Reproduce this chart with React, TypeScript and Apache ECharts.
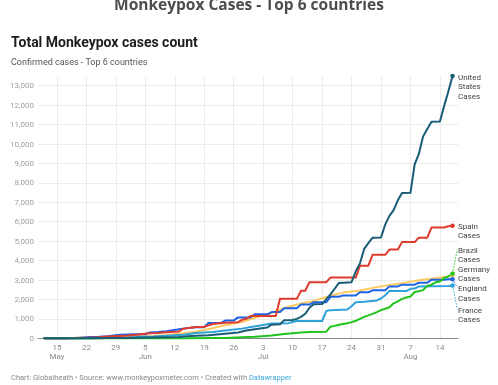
import React, { useEffect, useRef } from "react";
import * as echarts from "echarts";

// ---------- data (cumulative confirmed cases, 2022) ----------
const tickDates = ["05-15", "05-22", "05-29", "06-05", "06-12", "06-19", "06-26", "07-03", "07-10", "07-17", "07-24", "07-31", "08-07", "08-14"];
const tickDayLabels = ["15", "22", "29", "5", "12", "19", "26", "3", "10", "17", "24", "31", "7", "14"];
const tickMonthLabels = ["May", "", "", "Jun", "", "", "", "Jul", "", "", "", "", "Aug", ""];
const yTicks = [0, 1000, 2000, 3000, 4000, 5000, 6000, 7000, 8000, 9000, 10000, 11000, 12000, 13000];

const unitedStates: [string, number][] = [
  ["05-12", 0], ["05-17", 1], ["05-20", 3], ["05-27", 10], ["06-01", 20], ["06-06", 35], ["06-10", 50],
  ["06-13", 70], ["06-15", 100], ["06-17", 130], ["06-20", 160], ["06-22", 200], ["06-24", 240],
  ["06-27", 300], ["06-29", 400], ["07-01", 470], ["07-04", 560], ["07-05", 700], ["07-07", 720],
  ["07-08", 930], ["07-10", 940], ["07-11", 1000], ["07-12", 1100], ["07-13", 1260], ["07-14", 1570],
  ["07-15", 1750], ["07-17", 1760], ["07-18", 2020], ["07-19", 2260], ["07-20", 2550], ["07-21", 2850],
  ["07-24", 2890], ["07-25", 3450], ["07-26", 3850], ["07-27", 4600], ["07-28", 4900], ["07-29", 5180],
  ["07-31", 5190], ["08-01", 5850], ["08-02", 6300], ["08-03", 6600], ["08-04", 7100], ["08-05", 7480],
  ["08-07", 7490], ["08-08", 8950], ["08-09", 9490], ["08-10", 10390], ["08-11", 10770], ["08-12", 11150],
  ["08-14", 11160], ["08-15", 11950], ["08-16", 12700], ["08-17", 13500],
];
const spain: [string, number][] = [
  ["05-12", 0], ["05-18", 7], ["05-20", 30], ["05-23", 41], ["05-25", 59], ["05-27", 98], ["05-30", 120],
  ["06-01", 142], ["06-03", 186], ["06-06", 259], ["06-08", 275], ["06-10", 313], ["06-13", 350],
  ["06-14", 497], ["06-17", 586], ["06-19", 586], ["06-21", 736], ["06-24", 800], ["06-27", 830],
  ["06-28", 950], ["06-29", 1000], ["06-30", 1150], ["07-06", 1150], ["07-07", 2030], ["07-11", 2030],
  ["07-12", 2450], ["07-13", 2450], ["07-14", 2890], ["07-18", 2890], ["07-19", 3125], ["07-25", 3125],
  ["07-26", 3740], ["07-28", 3740], ["07-29", 4300], ["08-01", 4300], ["08-02", 4570], ["08-04", 4570],
  ["08-05", 4950], ["08-08", 4950], ["08-09", 5180], ["08-11", 5180], ["08-12", 5700], ["08-15", 5700],
  ["08-16", 5770], ["08-17", 5790],
];
const brazil: [string, number][] = [
  ["05-12", 0], ["06-09", 0], ["06-10", 1], ["06-14", 5], ["06-21", 11], ["06-24", 21], ["06-28", 54],
  ["07-01", 76], ["07-05", 142], ["07-08", 218], ["07-12", 300], ["07-14", 330], ["07-18", 340],
  ["07-19", 600], ["07-20", 640], ["07-21", 700], ["07-23", 780], ["07-24", 830], ["07-25", 900],
  ["07-26", 1000], ["07-27", 1100], ["07-29", 1260], ["07-30", 1350], ["07-31", 1450], ["08-01", 1520],
  ["08-02", 1600], ["08-03", 1800], ["08-04", 1900], ["08-05", 2030], ["08-06", 2100], ["08-07", 2150],
  ["08-08", 2380], ["08-09", 2420], ["08-10", 2480], ["08-11", 2700], ["08-12", 2760], ["08-13", 2880],
  ["08-14", 2920], ["08-15", 3100], ["08-16", 3180], ["08-17", 3330],
];
const germany: [string, number][] = [
  ["05-12", 0], ["05-20", 1], ["05-24", 5], ["05-27", 21], ["05-31", 44], ["06-03", 80], ["06-07", 113],
  ["06-10", 165], ["06-14", 263], ["06-17", 338], ["06-21", 521], ["06-24", 676], ["06-28", 838],
  ["07-01", 1054], ["07-05", 1304], ["07-08", 1556], ["07-12", 1790], ["07-15", 1924], ["07-19", 2191],
  ["07-22", 2352], ["07-26", 2459], ["07-29", 2595], ["08-02", 2746], ["08-05", 2839], ["08-09", 2992],
  ["08-12", 3062], ["08-16", 3186], ["08-17", 3240],
];
const england: [string, number][] = [
  ["05-12", 0], ["05-14", 7], ["05-18", 9], ["05-20", 20], ["05-23", 70], ["05-25", 78], ["05-27", 106],
  ["05-30", 179], ["06-01", 196], ["06-02", 207], ["06-05", 207], ["06-06", 302], ["06-08", 321],
  ["06-10", 366], ["06-13", 470], ["06-15", 524], ["06-17", 574], ["06-19", 574], ["06-20", 793],
  ["06-23", 793], ["06-24", 910], ["06-26", 910], ["06-27", 1076], ["06-30", 1076], ["07-01", 1235],
  ["07-04", 1235], ["07-05", 1351], ["07-07", 1351], ["07-08", 1552], ["07-11", 1552], ["07-12", 1735],
  ["07-14", 1735], ["07-15", 1856], ["07-18", 1856], ["07-19", 2137], ["07-21", 2137], ["07-22", 2208],
  ["07-25", 2208], ["07-26", 2367], ["07-28", 2367], ["07-29", 2469], ["08-01", 2469], ["08-02", 2672],
  ["08-04", 2672], ["08-05", 2759], ["08-08", 2759], ["08-09", 2859], ["08-11", 2859], ["08-12", 3017],
  ["08-15", 3017], ["08-16", 3040], ["08-17", 3040],
];
const france: [string, number][] = [
  ["05-12", 0], ["05-20", 1], ["05-24", 5], ["05-27", 16], ["05-31", 33], ["06-03", 66], ["06-07", 91],
  ["06-10", 125], ["06-14", 183], ["06-17", 277], ["06-21", 330], ["06-24", 396], ["06-28", 498],
  ["06-30", 577], ["07-02", 650], ["07-04", 721], ["07-05", 760], ["07-09", 780], ["07-10", 840],
  ["07-11", 890], ["07-17", 890], ["07-18", 1400], ["07-19", 1450], ["07-23", 1480], ["07-24", 1650],
  ["07-25", 1850], ["07-27", 1880], ["07-30", 1950], ["07-31", 2050], ["08-01", 2220], ["08-02", 2430],
  ["08-06", 2430], ["08-07", 2550], ["08-08", 2560], ["08-09", 2670], ["08-16", 2690], ["08-17", 2720],
];

// ---------- helpers ----------
const DAY = 86400000;
const BASE = Date.UTC(2022, 4, 15);
const dayOf = (s: string) => (Date.UTC(2022, Number(s.slice(0, 2)) - 1, Number(s.slice(3))) - BASE) / DAY;
const tickDays = tickDates.map(dayOf);

const FONT = "Roboto, 'Noto Sans', sans-serif";

const seriesDefs = [
  { name: "Germany", label: "Germany\nCases", data: germany, color: "#fccb5f", dy: -1.5, conn: -7 },
  { name: "France", label: "France\nCases", data: france, color: "#2ea2da", dy: 29.5, conn: 24 },
  { name: "England", label: "England\nCases", data: england, color: "#1e63e3", dy: 14.5, conn: 8 },
  { name: "Spain", label: "Spain\nCases", data: spain, color: "#de3a2e", dy: 5.2, conn: 0 },
  { name: "Brazil", label: "Brazil\nCases", data: brazil, color: "#1fc41b", dy: -18.5, conn: -24 },
  { name: "United States", label: "United\nStates\nCases", data: unitedStates, color: "#1a5d77", dy: 10.5, conn: 0 },
];

export default function App() {
  const ref = useRef<HTMLDivElement>(null);
  useEffect(() => {
    if (!ref.current) return;
    const chart = echarts.init(ref.current, undefined, { renderer: "svg" });
    const series = seriesDefs.map((s) => ({
      type: "line",
      name: s.name,
      symbol: "none",
      showSymbol: true,
      clip: false,
      lineStyle: { color: s.color, width: 2, join: "round", cap: "round" },
      itemStyle: { color: s.color },
      data: s.data.map(([d, v], i) =>
        i === s.data.length - 1
          ? { value: [dayOf(d), v], symbol: "circle", symbolSize: 4.5 }
          : { value: [dayOf(d), v] }
      ),
      endLabel: {
        show: true,
        formatter: s.label,
        distance: 5.5,
        offset: [0, s.dy],
        fontSize: 8,
        lineHeight: 9.5,
        color: "#444",
        fontFamily: FONT,
        align: "left",
      },
      emphasis: { disabled: true },
    }));

    chart.setOption({
      animation: false,
      grid: { left: 38, right: 40, top: 76, bottom: 46.7 },
      xAxis: {
        type: "value",
        min: -4.5,
        max: 95.3,
        axisLine: { show: true, onZero: false, lineStyle: { color: "#888", width: 1 } },
        axisTick: { show: false, customValues: tickDays },
        splitLine: { show: true, lineStyle: { color: "#ececec", width: 1 } },
        axisLabel: {
          customValues: tickDays,
          margin: 4,
          fontSize: 8,
          lineHeight: 9.5,
          color: "#8a8a8a",
          fontFamily: FONT,
          formatter: (v: number) => {
            const i = tickDays.findIndex((t) => Math.abs(t - v) < 0.01);
            if (i < 0) return "";
            return tickMonthLabels[i] ? tickDayLabels[i] + "\n" + tickMonthLabels[i] : tickDayLabels[i];
          },
        },
      },
      yAxis: {
        type: "value",
        min: 0,
        max: 13500,
        axisLine: { show: false },
        axisTick: { show: false, customValues: yTicks },
        splitLine: { show: true, lineStyle: { color: "#ececec", width: 1 } },
        axisLabel: {
          customValues: yTicks,
          margin: 4,
          fontSize: 8,
          color: "#a0a0a0",
          fontFamily: FONT,
          formatter: (v: number) => v.toLocaleString("en-US"),
        },
      },
      series,
    });

    const texts: any[] = [
      {
        type: "text",
        style: {
          text: "Monkeypox Cases - Top 6 countries",
          x: 249, y: 3.5, align: "center", verticalAlign: "middle",
          font: "bold 15.5px 'Open Sans', sans-serif", fill: "#4d4d4d",
        },
      },
      {
        type: "text",
        style: {
          text: "Total Monkeypox cases count",
          x: 11, y: 41.5, align: "left", verticalAlign: "middle",
          font: "bold 14px Roboto, sans-serif", fill: "#1d1d1d",
        },
      },
      {
        type: "text",
        style: {
          text: "Confirmed cases - Top 6 countries",
          x: 11, y: 61.5, align: "left", verticalAlign: "middle",
          font: "9px Roboto, sans-serif", fill: "#555",
        },
      },
      {
        type: "text",
        style: {
          text: "{a|Chart: Globalheath • Source: www.monkeypoxmeter.com • Created with }{b|Datawrapper}",
          x: 11, y: 377.5, align: "left", verticalAlign: "middle",
          rich: {
            a: { fontSize: 7.5, fontFamily: FONT, fill: "#888" },
            b: { fontSize: 7.5, fontFamily: FONT, fill: "#3aa6d9" },
          },
        },
      },
    ];

    // dotted connectors from line ends to shifted labels
    const connectors: any[] = [];
    seriesDefs.forEach((s) => {
      if (!s.conn) return;
      const last = s.data[s.data.length - 1];
      const p = chart.convertToPixel({ gridIndex: 0 }, [dayOf(last[0]), last[1]]) as number[];
      connectors.push({
        type: "line",
        silent: true,
        shape: { x1: p[0], y1: p[1], x2: p[0] + 4.8, y2: p[1] + s.conn },
        style: { stroke: s.color, lineWidth: 1, lineDash: [1.5, 1.5] },
      });
    });
    chart.setOption({ graphic: [...texts, ...connectors] });

    return () => chart.dispose();
  }, []);
  return <div ref={ref} style={{ position: "fixed", left: 0, top: 0, width: 498, height: 385 }} />;
}
